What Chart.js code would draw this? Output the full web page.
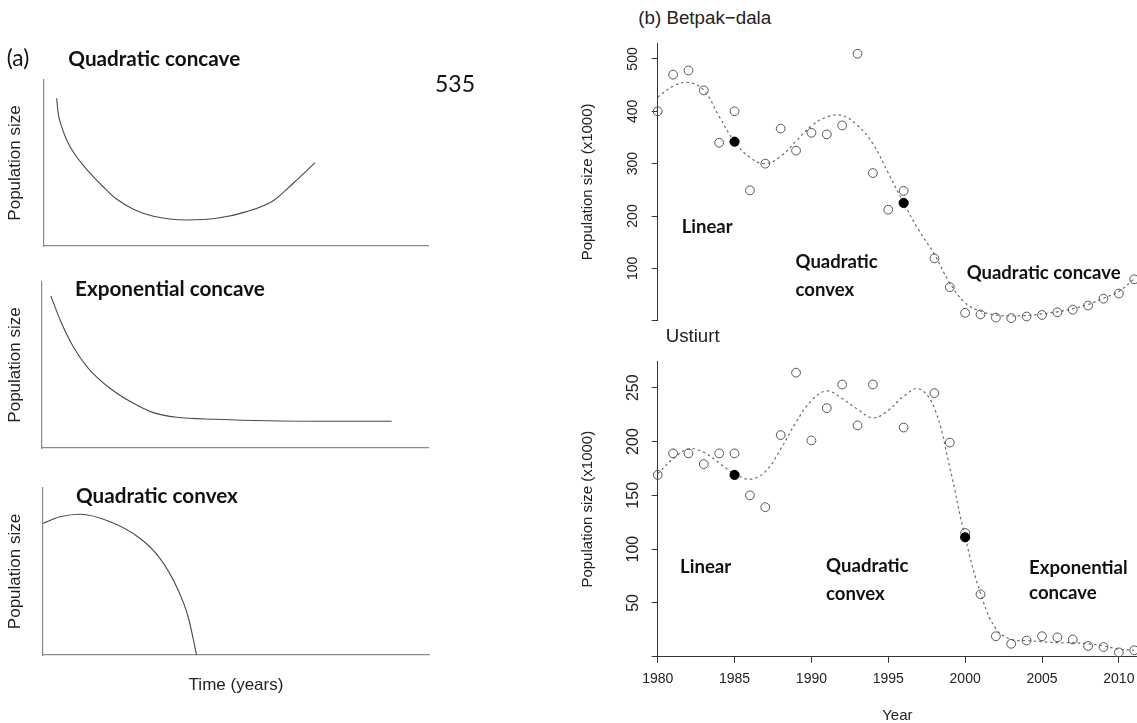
<!DOCTYPE html>
<html><head><meta charset="utf-8">
<script src="https://cdn.jsdelivr.net/npm/chart.js@4.4.1/dist/chart.umd.min.js"></script>
<style>
html,body{margin:0;padding:0;background:#fff;width:1137px;height:723px;overflow:hidden;position:relative}
canvas{position:absolute}
.lbl{position:absolute;white-space:nowrap;line-height:1;color:#111;transform:translateY(-50%)}
.cal{font-family:Lato,'Open Sans',sans-serif}
.ari{font-family:'Liberation Sans',Arial,sans-serif;color:#222}
</style></head><body>

<canvas id="cA" width="440" height="190" style="left:0;top:70px"></canvas>
<canvas id="cB" width="440" height="190" style="left:0;top:270px"></canvas>
<canvas id="cC" width="440" height="245" style="left:0;top:478px"></canvas>
<canvas id="cBet" width="577" height="310" style="left:560px;top:30px"></canvas>
<canvas id="cUst" width="577" height="410" style="left:560px;top:330px"></canvas>

<div class="lbl cal" data-w="22.6" style="left:6.7px;top:58.3px">(a)</div>
<div class="lbl cal" data-w="172" style="left:68.3px;top:58.3px;font-weight:bold">Quadratic concave</div>
<div class="lbl cal" data-w="40" style="left:435px;top:83.3px">535</div>
<div class="lbl cal" data-w="190" style="left:75px;top:288px;font-weight:bold">Exponential concave</div>
<div class="lbl cal" data-w="162" style="left:76px;top:495px;font-weight:bold">Quadratic convex</div>
<div class="lbl ari" data-w="133" style="left:638.3px;top:18.3px">(b) Betpak−dala</div>
<div class="lbl ari" data-w="54" style="left:665.7px;top:336px">Ustiurt</div>

<script>
// ---------- schematic curves, panel (a) ----------
const concaveQuadX = [3.3, 3.7, 4.6, 5.9, 7.6, 9.8, 12.4, 15.4, 18.9, 23.3, 28.5, 37.2, 45, 52.8, 59.7, 64.9, 70.6];
const concaveQuadY = [89, 79.9, 71.9, 63.9, 56.8, 49.8, 42.8, 35.7, 28.3, 22.2, 17.9, 15.7, 16.7, 20.7, 27.3, 37.8, 50.2];
const concaveExpX = [2.3, 4.7, 8.1, 12, 17.6, 23.7, 28.8, 34.9, 45.3, 58.2, 75.5, 90.6];
const concaveExpY = [91.6, 77.1, 61, 48, 36, 26.9, 21.3, 18.5, 17.3, 16.4, 16.1, 16.1];
const convexQuadX = [0, 4.4, 9.6, 17.4, 25.1, 30.3, 34.6, 37.6, 39.8];
const convexQuadY = [78.9, 82.8, 84.3, 79.8, 69.9, 57.9, 40.9, 22.9, 0];

// ---------- panel (b) data ----------
const fitYears = [1980,1981,1982,1983,1984,1985,1986,1987,1988,1989,1990,1991,1992,1993,1994,1995,1996,1997,1998,1999,2000,2001,2002,2003,2004,2005,2006,2007,2008,2009,2010,2011];

const betpakYears = [1980,1981,1982,1983,1984,1985,1986,1987,1988,1989,1990,1991,1992,1993,1994,1995,1996,1998,1999,2000,2001,2002,2003,2004,2005,2006,2007,2008,2009,2010,2011];
const betpakPop = [400,470,478,440,340,400,249,300,367,325,359,356,373,510,282,212,248,119,64,15,12,6,5,8,11,16,21,29,42,52,79];
const betpakBreakYears = [1985, 1996];
const betpakBreakPop = [342, 225];
const betpakFit = [427,448,455,440,390,342,312,300,314,343,372,389,392,373,338,282,225,172,127,72,34,18,11,9,10,13,17,23,31,43,56,80];
const betpakTicks = [0,100,200,300,400,500];

const ustiurtYears = [1980,1981,1982,1983,1984,1985,1986,1987,1988,1989,1990,1991,1992,1993,1994,1996,1998,1999,2000,2001,2002,2003,2004,2005,2006,2007,2008,2009,2010,2011];
const ustiurtPop = [169,189,189,179,189,189,150,139,206,264,201,231,253,215,253,213,245,199,115,58,19,12,15,19,18,16,10,9,4,6];
const ustiurtBreakYears = [1985, 2000];
const ustiurtBreakPop = [169, 111];
const ustiurtFit = [170,184,193,190,180,170,165,172,193,218,238,247,240,230,222,229,242,249,231,176,111,59,26,16,15,14,13,13,12,10,7,6];
const ustiurtTicks = [0,50,100,150,200,250];
const yearTicks = [1980,1985,1990,1995,2000,2005,2010];

const betpakNotes = [
  {text:'Linear', x:1981.56, y:178},
  {text:'Quadratic', x:1988.97, y:112},
  {text:'convex', x:1988.97, y:58.6},
  {text:'Quadratic concave', x:2000.1, y:91.7}
];
const ustiurtNotes = [
  {text:'Linear', x:1981.45, y:83.5},
  {text:'Quadratic', x:1990.95, y:84.2},
  {text:'convex', x:1990.95, y:58.1},
  {text:'Exponential', x:2004.16, y:82.3},
  {text:'concave', x:2004.16, y:59}
];

// ---------- helpers ----------
Chart.defaults.font.family = "'Liberation Sans', Arial, sans-serif";
Chart.defaults.color = '#222';

document.querySelectorAll('.lbl').forEach(el => {
  el.style.fontSize = '100px';
  const w = el.getBoundingClientRect().width;
  el.style.fontSize = (100 * parseFloat(el.dataset.w) / w) + 'px';
});

const pts = (xs, ys) => xs.map((x, i) => ({x: x, y: ys[i]}));
function fixBox(w, h) {
  return function(s) {
    if (w != null) s.width = w;
    if (h != null) s.height = h;
    s.paddingLeft = 0; s.paddingRight = 0; s.paddingTop = 0; s.paddingBottom = 0;
  };
}

const notePlugin = {
  id: 'notes',
  afterDatasetsDraw(chart, args, opts) {
    const items = opts.items || [];
    const ctx = chart.ctx, xs = chart.scales.x, ys = chart.scales.y;
    ctx.save();
    ctx.font = 'bold 100px Lato';
    const size = 100 * opts.refWidth / ctx.measureText(opts.refText).width;
    ctx.font = 'bold ' + size + 'px Lato';
    ctx.fillStyle = '#111';
    ctx.textAlign = 'left';
    ctx.textBaseline = 'middle';
    items.forEach(it => ctx.fillText(it.text, xs.getPixelForValue(it.x), ys.getPixelForValue(it.y)));
    ctx.restore();
  }
};

function schematic(id, xs, ys, yW, xH, pad, xTitle) {
  new Chart(document.getElementById(id), {
    type: 'scatter',
    data: {datasets: [{data: pts(xs, ys), showLine: true, cubicInterpolationMode: 'monotone',
      borderColor: '#4a4a4a', borderWidth: 1.1, pointRadius: 0, fill: false}]},
    options: {
      responsive: false, animation: false, events: [],
      layout: {padding: pad, autoPadding: false},
      plugins: {legend: {display: false}, tooltip: {enabled: false}},
      scales: {
        x: {type: 'linear', min: 0, max: 100, afterFit: fixBox(null, xH),
          border: {display: true, color: '#8a8a8a', width: 1.2},
          grid: {display: true, drawOnChartArea: false, drawTicks: false},
          ticks: {display: false},
          title: {display: !!xTitle, text: xTitle || '', font: {size: 17}, color: '#222', padding: {top: 0, bottom: 27.8}}},
        y: {type: 'linear', min: 0, max: 100, afterFit: fixBox(yW, null),
          border: {display: true, color: '#8a8a8a', width: 1.2},
          grid: {display: true, drawOnChartArea: false, drawTicks: false},
          ticks: {display: false},
          title: {display: true, text: 'Population size', font: {size: 17}, color: '#222', padding: {top: 4.8, bottom: 0}}}
      }
    }
  });
}

schematic('cA', concaveQuadX, concaveQuadY, 44, 14, {top: 10, right: 12, bottom: 0, left: 0}, null);
schematic('cB', concaveExpX, concaveExpY, 42, 12, {top: 12, right: 12, bottom: 0, left: 0}, null);
schematic('cC', convexQuadX, convexQuadY, 43, 68, {top: 10, right: 11, bottom: 0, left: 0}, 'Time (years)');

function panel(id, o) {
  new Chart(document.getElementById(id), {
    type: 'scatter',
    plugins: [notePlugin],
    data: {datasets: [
      {data: pts(o.breakYears, o.breakPop), pointRadius: 4.6, pointBorderWidth: 1,
        pointBackgroundColor: '#000', pointBorderColor: '#000', order: 0, clip: false},
      {data: pts(o.years, o.pop), pointRadius: 4.4, pointBorderWidth: 1,
        pointBackgroundColor: 'rgba(0,0,0,0)', pointBorderColor: '#555', order: 1, clip: false},
      {data: pts(fitYears, o.fit), showLine: true, tension: 0.4, pointRadius: 0,
        borderColor: '#6a6a6a', borderWidth: 1.2, borderDash: [2.5, 3], order: 2, clip: false}
    ]},
    options: {
      responsive: false, animation: false, events: [],
      layout: {padding: o.pad, autoPadding: false},
      plugins: {legend: {display: false}, tooltip: {enabled: false},
        notes: {items: o.notes, refText: o.refText, refWidth: o.refWidth}},
      scales: {
        x: {type: 'linear', min: 1980, max: 2011.18, display: o.showX, afterFit: fixBox(null, o.xH),
          border: {display: true, color: '#333', width: 1},
          grid: {drawOnChartArea: false, drawTicks: true, tickLength: 6, color: '#333'},
          afterBuildTicks: s => { s.ticks = yearTicks.map(v => ({value: v})); },
          ticks: {autoSkip: false, maxRotation: 0, padding: 8, font: {size: 14}, color: '#222', callback: v => String(v)},
          title: {display: true, text: 'Year', font: {size: 15}, color: '#222', padding: {top: 0, bottom: 15}}},
        y: {type: 'linear', min: 0, max: o.yMax, afterFit: fixBox(97.7, null),
          border: {display: true, color: '#333', width: 1},
          grid: {drawOnChartArea: false, drawTicks: true, tickLength: 6, color: '#333'},
          afterBuildTicks: s => { s.ticks = o.yTicks.map(v => ({value: v})); },
          ticks: {autoSkip: false, minRotation: 90, maxRotation: 90, crossAlign: 'center', padding: o.tickPad,
            font: {size: o.tickSize}, color: '#222', callback: v => (v === 0 ? '' : String(v))},
          title: {display: true, text: 'Population size (x1000)', font: {size: 15}, color: '#222', padding: {top: 19, bottom: 0}}}
      }
    }
  });
}

panel('cBet', {years: betpakYears, pop: betpakPop, breakYears: betpakBreakYears, breakPop: betpakBreakPop,
  fit: betpakFit, yTicks: betpakTicks, yMax: 530.5, showX: false, xH: 0,
  pad: {top: 13, right: 0, bottom: 19.3, left: 0}, tickPad: 7.3, tickSize: 14,
  notes: betpakNotes, refText: 'Quadratic concave', refWidth: 154});

panel('cUst', {years: ustiurtYears, pop: ustiurtPop, breakYears: ustiurtBreakYears, breakPop: ustiurtBreakPop,
  fit: ustiurtFit, yTicks: ustiurtTicks, yMax: 274.2, showX: true, xH: 83.3,
  pad: {top: 31.7, right: 0, bottom: 0, left: 0}, tickPad: 5.1, tickSize: 16,
  notes: ustiurtNotes, refText: 'Exponential', refWidth: 98.6});
</script>
</body></html>
